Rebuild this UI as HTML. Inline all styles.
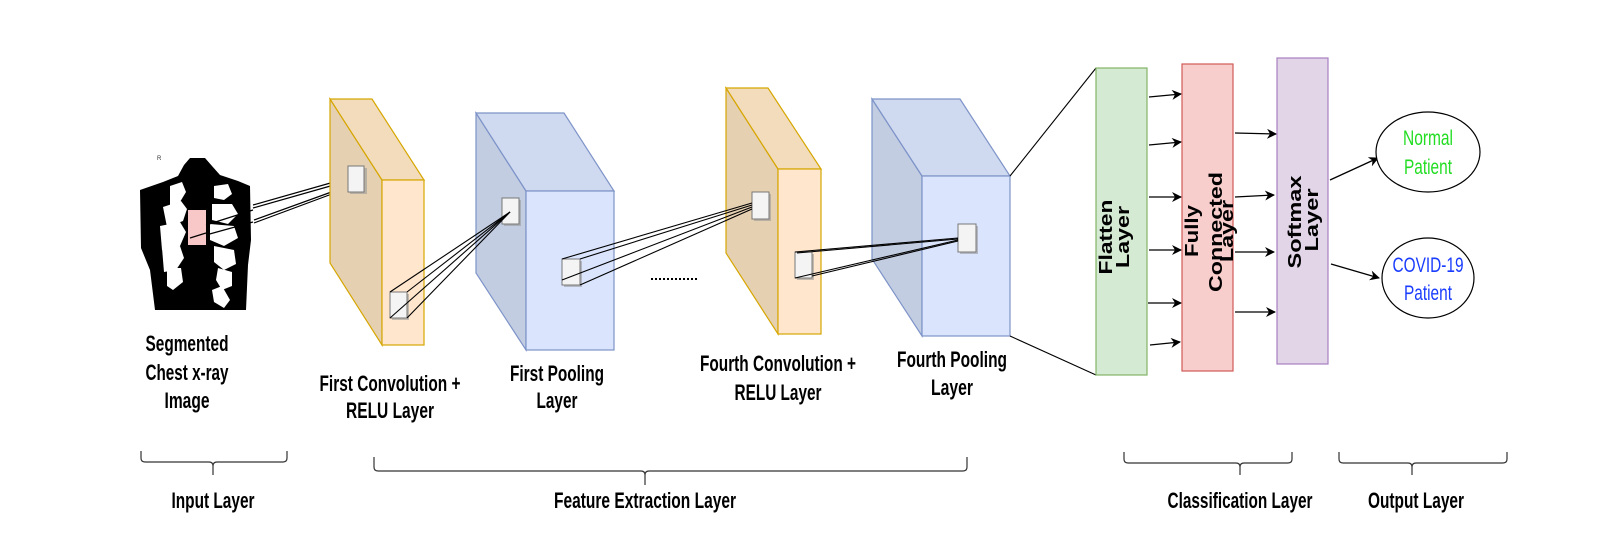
<!DOCTYPE html>
<html><head><meta charset="utf-8"><style>html,body{margin:0;padding:0;background:#fff}svg{display:block}</style></head>
<body>
<svg width="1600" height="549" viewBox="0 0 1600 549" xmlns="http://www.w3.org/2000/svg" font-family="Liberation Sans, Arial, sans-serif">
<defs>
<marker id="ah" markerWidth="10" markerHeight="10" refX="9" refY="5" orient="auto" markerUnits="userSpaceOnUse"><path d="M0,0 L10,5 L0,10 L3,5 z" fill="#000"/></marker>
</defs>
<rect width="1600" height="549" fill="#fff"/>

<!-- X-ray -->
<g>
<path d="M163,182 L178,176 L184,165 L190,158 L205,158 L212,166 L220,175 L238,181 L250,186 L251,240 L248,265 L246,310 L155,310 L150,270 L141,248 L140,190 Z" fill="#000"/>
<g fill="#fff">
<path d="M170,186 l12,-4 4,10 -6,10 -10,4z"/><path d="M163,207 l18,-6 6,8 -4,12 -16,6z"/><path d="M160,226 l20,-4 6,10 -6,14 -18,4z"/><path d="M162,248 l18,-2 4,12 -8,12 -12,2z"/><path d="M167,268 l14,0 2,14 -10,8 -6,-4z"/>
<path d="M214,186 l14,-2 4,10 -8,6 -10,-2z"/><path d="M212,204 l20,0 6,10 -10,10 -16,-4z"/><path d="M210,224 l24,2 4,12 -14,8 -14,-6z"/><path d="M214,246 l20,4 2,14 -12,6 -10,-8z"/><path d="M218,268 l14,4 0,14 -10,4 -6,-10z"/>
<path d="M212,290 l10,-4 8,14 -6,8 -10,-6z"/>
</g>
<text x="157" y="160" font-size="6" fill="#333">R</text>
<rect x="188" y="210" width="18" height="35" fill="#f8c8c8"/>
</g>
<g stroke="#000" stroke-width="1.2" fill="none">
<line x1="253" y1="205" x2="348" y2="178"/><line x1="253" y1="208" x2="348" y2="181"/><line x1="254" y1="220" x2="348" y2="186"/><line x1="254" y1="223" x2="348" y2="188"/>
<line x1="206" y1="225" x2="253" y2="210"/><line x1="206" y1="235" x2="253" y2="222"/><line x1="190" y1="238" x2="206" y2="233"/>
</g>

<!-- Conv1 -->
<g stroke="#d6a600" stroke-width="1.2">
<polygon points="330,99 382,180 382,345 330,263" fill="#e6d0b2"/>
<polygon points="330,99 372,99 424,180 382,180" fill="#f2dcbc"/>
<rect x="382" y="180" width="42" height="165" fill="#ffe6cc"/>
</g>
<!-- Pool1 -->
<g stroke="#7d93c8" stroke-width="1.2">
<polygon points="476,113 526,191 526,350 476,273" fill="#c2cde2"/>
<polygon points="476,113 564,113 614,191 526,191" fill="#cfd9ef"/>
<rect x="526" y="191" width="88" height="159" fill="#dae4fc"/>
</g>
<!-- Conv4 -->
<g stroke="#d6a600" stroke-width="1.2">
<polygon points="726,88 778,169 778,334 726,253" fill="#e6d0b2"/>
<polygon points="726,88 768,88 821,169 778,169" fill="#f2dcbc"/>
<rect x="778" y="169" width="43" height="165" fill="#ffe6cc"/>
</g>
<!-- Pool4 -->
<g stroke="#7d93c8" stroke-width="1.2">
<polygon points="872,99 922,176 922,336 872,259" fill="#c2cde2"/>
<polygon points="872,99 960,99 1010,176 922,176" fill="#cfd9ef"/>
<rect x="922" y="176" width="88" height="160" fill="#dae4fc"/>
</g>

<!-- small squares -->
<g fill="#f4f4f4" stroke="#777" stroke-width="1">
<rect x="350" y="168" width="17" height="26" fill="#999" stroke="none" opacity="0.6"/><rect x="348" y="166" width="16" height="26"/>
<rect x="392" y="294" width="17" height="26" fill="#999" stroke="none" opacity="0.6"/><rect x="390" y="292" width="17" height="26"/>
<rect x="504" y="200" width="17" height="26" fill="#999" stroke="none" opacity="0.6"/><rect x="502" y="198" width="17" height="26"/>
<rect x="564" y="261" width="18" height="26" fill="#999" stroke="none" opacity="0.6"/><rect x="562" y="259" width="18" height="26"/>
<rect x="754" y="194" width="17" height="27" fill="#999" stroke="none" opacity="0.6"/><rect x="752" y="192" width="17" height="27"/>
<rect x="797" y="254" width="17" height="26" fill="#999" stroke="none" opacity="0.6"/><rect x="795" y="252" width="17" height="26"/>
<rect x="960" y="226" width="18" height="28" fill="#999" stroke="none" opacity="0.6"/><rect x="958" y="224" width="18" height="28"/>
</g>
<g stroke="#000" stroke-width="1.1" fill="none">
<line x1="390" y1="292" x2="510" y2="212"/><line x1="407" y1="292" x2="510" y2="212"/><line x1="390" y1="318" x2="510" y2="212"/><line x1="407" y1="318" x2="510" y2="212"/>
<line x1="562" y1="259" x2="752" y2="203"/><line x1="580" y1="259" x2="752" y2="205"/><line x1="562" y1="280" x2="752" y2="207"/><line x1="580" y1="285" x2="752" y2="209"/>
<line x1="795" y1="252" x2="958" y2="238"/><line x1="797" y1="253" x2="958" y2="239"/><line x1="795" y1="278" x2="958" y2="240"/><line x1="812" y1="276" x2="958" y2="241"/>
<line x1="1010" y1="176" x2="1096" y2="68"/><line x1="1010" y1="336" x2="1096" y2="375"/>
</g>
<line x1="651" y1="279" x2="697" y2="279" stroke="#000" stroke-width="2" stroke-dasharray="2,2"/>

<!-- classification bars -->
<rect x="1096" y="68" width="51" height="307" fill="#d5ead3" stroke="#82b366" stroke-width="1.2"/>
<rect x="1182" y="64" width="51" height="307" fill="#f8cecc" stroke="#d05b58" stroke-width="1.2"/>
<rect x="1277" y="58" width="51" height="306" fill="#e1d5e7" stroke="#a67fc0" stroke-width="1.2"/>

<g stroke="#000" stroke-width="1.3" marker-end="url(#ah)">
<line x1="1149" y1="97" x2="1181" y2="94"/><line x1="1149" y1="145" x2="1181" y2="142"/><line x1="1149" y1="197" x2="1181" y2="197"/><line x1="1149" y1="250" x2="1181" y2="250"/><line x1="1148" y1="303" x2="1181" y2="303"/><line x1="1150" y1="345" x2="1180" y2="342"/>
<line x1="1235" y1="133" x2="1276" y2="134"/><line x1="1235" y1="197" x2="1274" y2="195"/><line x1="1235" y1="252" x2="1274" y2="252"/><line x1="1235" y1="312" x2="1275" y2="312"/>
<line x1="1330" y1="180" x2="1378" y2="158"/><line x1="1331" y1="264" x2="1379" y2="278"/>
</g>

<ellipse cx="1428" cy="152" rx="52" ry="40" fill="#fff" stroke="#000" stroke-width="1.2"/>
<ellipse cx="1428" cy="278" rx="46" ry="40" fill="#fff" stroke="#000" stroke-width="1.2"/>
<g font-size="21" text-anchor="middle" lengthAdjust="spacingAndGlyphs">
<text x="1428" y="145" fill="#22dd22" textLength="50" lengthAdjust="spacingAndGlyphs">Normal</text>
<text x="1428" y="174" fill="#22dd22" textLength="48" lengthAdjust="spacingAndGlyphs">Patient</text>
<text x="1428" y="272" fill="#1a3cff" textLength="71" lengthAdjust="spacingAndGlyphs">COVID-19</text>
<text x="1428" y="300" fill="#1a3cff" textLength="48" lengthAdjust="spacingAndGlyphs">Patient</text>
</g>

<!-- rotated labels -->
<g font-size="18" font-weight="bold" text-anchor="middle">
<text transform="translate(1112,237) rotate(-90)" textLength="75" lengthAdjust="spacingAndGlyphs">Flatten</text>
<text transform="translate(1129,237) rotate(-90)" textLength="62" lengthAdjust="spacingAndGlyphs">Layer</text>
<text transform="translate(1198,231) rotate(-90)" textLength="52" lengthAdjust="spacingAndGlyphs">Fully</text>
<text transform="translate(1222,232) rotate(-90)" textLength="120" lengthAdjust="spacingAndGlyphs">Connected</text>
<text transform="translate(1233,231) rotate(-90)" textLength="62" lengthAdjust="spacingAndGlyphs">Layer</text>
<text transform="translate(1301,222) rotate(-90)" textLength="93" lengthAdjust="spacingAndGlyphs">Softmax</text>
<text transform="translate(1318,220) rotate(-90)" textLength="63" lengthAdjust="spacingAndGlyphs">Layer</text>
</g>

<!-- bottom labels -->
<g font-size="22" font-weight="bold" text-anchor="middle" fill="#000">
<text x="187" y="351" textLength="83" lengthAdjust="spacingAndGlyphs">Segmented</text>
<text x="187" y="380" textLength="83" lengthAdjust="spacingAndGlyphs">Chest x-ray</text>
<text x="187" y="408" textLength="45" lengthAdjust="spacingAndGlyphs">Image</text>
<text x="390" y="391" textLength="141" lengthAdjust="spacingAndGlyphs">First Convolution +</text>
<text x="390" y="418" textLength="88" lengthAdjust="spacingAndGlyphs">RELU Layer</text>
<text x="557" y="381" textLength="94" lengthAdjust="spacingAndGlyphs">First Pooling</text>
<text x="557" y="408" textLength="41" lengthAdjust="spacingAndGlyphs">Layer</text>
<text x="778" y="371" textLength="156" lengthAdjust="spacingAndGlyphs">Fourth Convolution +</text>
<text x="778" y="400" textLength="87" lengthAdjust="spacingAndGlyphs">RELU Layer</text>
<text x="952" y="367" textLength="110" lengthAdjust="spacingAndGlyphs">Fourth Pooling</text>
<text x="952" y="395" textLength="42" lengthAdjust="spacingAndGlyphs">Layer</text>
<text x="213" y="508" textLength="83" lengthAdjust="spacingAndGlyphs">Input Layer</text>
<text x="645" y="508" textLength="182" lengthAdjust="spacingAndGlyphs">Feature Extraction Layer</text>
<text x="1240" y="508" textLength="145" lengthAdjust="spacingAndGlyphs">Classification Layer</text>
<text x="1416" y="508" textLength="96" lengthAdjust="spacingAndGlyphs">Output Layer</text>
</g>

<!-- braces -->
<g stroke="#333" stroke-width="1.2" fill="none">
<path d="M141,451 v7 q0,4 4,4 h64 q4,0 4,4 v9 M213,466 q0,-4 4,-4 h66 q4,0 4,-4 v-7"/>
<path d="M374,457 v10 q0,4 4,4 h263 q4,0 4,4 v10 M645,475 q0,-4 4,-4 h314 q4,0 4,-4 v-10"/>
<path d="M1124,452 v7 q0,4 4,4 h108 q4,0 4,4 v8 M1240,467 q0,-4 4,-4 h44 q4,0 4,-4 v-7"/>
<path d="M1339,452 v7 q0,4 4,4 h65 q4,0 4,4 v8 M1412,467 q0,-4 4,-4 h87 q4,0 4,-4 v-7"/>
</g>
</svg>
</body></html>
